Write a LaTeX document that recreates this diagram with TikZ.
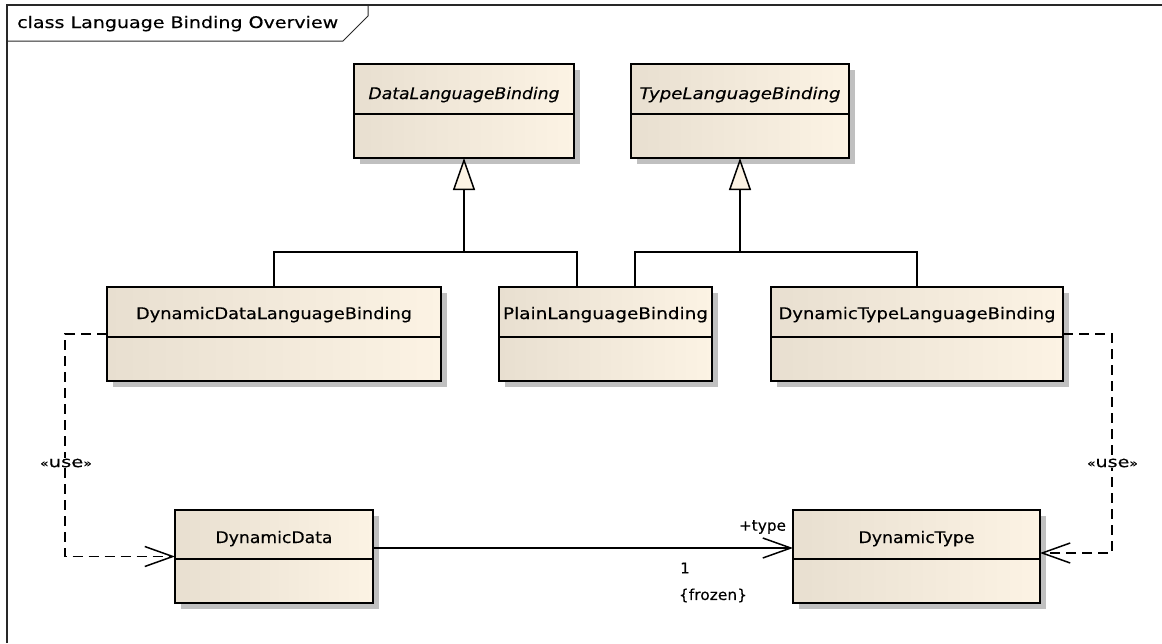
\documentclass[tikz,border=0pt]{standalone}
\usepackage{fontspec}
\setmainfont{DejaVu Sans}[FakeBold=0.3]
\usepackage{graphicx}
\usetikzlibrary{arrows.meta,calc}
\definecolor{clsL}{RGB}{232,223,208}
\definecolor{clsR}{RGB}{252,243,228}
\definecolor{shd}{RGB}{192,192,192}
\definecolor{frm}{RGB}{40,40,40}
\newcommand\fw[2]{\resizebox{#1}{\height}{#2}}
\newcommand\usetxt{{\fontsize{11}{11}\selectfont«}use{\fontsize{11}{11}\selectfont»}}
\tikzset{
 clsbox/.style={draw=black, line width=1.6pt, left color=clsL, right color=clsR, inner sep=0pt, outer sep=0pt},
 cmpline/.style={draw=black, line width=1.4pt},
 clsname/.style={inner sep=0pt, anchor=base, font=\fontsize{16}{16}\selectfont},
 conn/.style={draw=black, line width=1.5pt},
 dep/.style={conn, dash pattern=on 10pt off 6pt},
 lbl/.style={inner sep=0pt, font=\fontsize{15}{15}\selectfont},
 uselbl/.style={lbl, fill=white, inner sep=1pt},
 gen/.style={-{Triangle[length=32pt,width=22pt,fill=clsR]}},
 nav/.style={-{Straight Barb[length=28pt,width=20pt]}},
}
% name, x1, y1, x2, y2, yline, baseline, textwidth, text
\newcommand\umlcls[9]{%
 \fill[shd] (#2+6,#3+6) rectangle (#4+6,#5+6);
 \node[clsbox, anchor=north west, minimum width={#4-#2}, minimum height={#5-#3}] (#1) at (#2,#3) {};
 \draw[cmpline] (#2,#6) -- (#4,#6);
 \node[clsname] (#1t) at ({(#2+#4)/2},#7) {\fw{#8}{#9}};
}
\begin{document}
\begin{tikzpicture}[x=1pt,y=-1pt]
\useasboundingbox (0,0) rectangle (1162,643);
% frame
\draw[frm, line width=1.4pt] (7,643) -- (7,5) -- (1162,5);
\draw[frm, line width=1pt] (7,41) -- (343,41) -- (368,16) -- (368,5);
\node[inner sep=0pt, anchor=base west, font=\fontsize{16}{16}\selectfont] (title) at (17,28) {\fw{321pt}{class Language Binding Overview}};
% classes
\umlcls{dlb}{354}{64}{574}{158}{114}{99}{191pt}{\itshape DataLanguageBinding}
\umlcls{tlb}{631}{64}{849}{158}{114}{99}{201pt}{\itshape TypeLanguageBinding}
\umlcls{ddlb}{107}{287}{441}{381}{337}{319}{276pt}{DynamicDataLanguageBinding}
\umlcls{plb}{499}{287}{712}{381}{337}{319}{205pt}{PlainLanguageBinding}
\umlcls{dtlb}{771}{287}{1063}{381}{337}{319}{277pt}{DynamicTypeLanguageBinding}
\umlcls{dd}{175}{510}{373}{603}{559}{543}{117pt}{DynamicData}
\umlcls{dt}{793}{510}{1040}{603}{559}{543}{116pt}{DynamicType}
% generalizations
\coordinate (plbA) at ($(plb.north west)+(78,0)$);
\coordinate (plbB) at ($(plb.north west)+(136,0)$);
\path (dlb.south) ++(0,94) coordinate (gj1);
\path (tlb.south) ++(0,94) coordinate (gj2);
\draw[conn] (ddlb.north) |- (gj1) -| (plbA);
\draw[conn,gen] (gj1) -- (dlb.south);
\draw[conn] (plbB) |- (gj2) -| (dtlb.north);
\draw[conn,gen] (gj2) -- (tlb.south);
% dependencies
\draw[dep,nav] (ddlb.west) -- ++(-42,0) |- (dd.west);
\coordinate (dtE) at ($(dt.east)+(0,-3.5)$);
\draw[dep,nav] (dtlb.east) -- ++(49,0) |- (dtE);
% association
\coordinate (ddA) at ($(dd.east)+(0,-8.5)$);
\coordinate (dtA) at ($(dt.west)+(0,-8.5)$);
\draw[conn,nav] (ddA) -- (dtA);
% labels
\node[uselbl] (useL) at (66,463) {\fw{52pt}{\usetxt}};
\node[uselbl] (useR) at (1112.5,463) {\fw{51pt}{\usetxt}};
\node[lbl] (roleT) at (762.5,527) {\fw{47pt}{+type}};
\node[lbl] (multT) at (685,568) {1};
\node[lbl] (frozT) at (713,595.5) {\fw{68pt}{\{frozen\}}};
\end{tikzpicture}
\end{document}
